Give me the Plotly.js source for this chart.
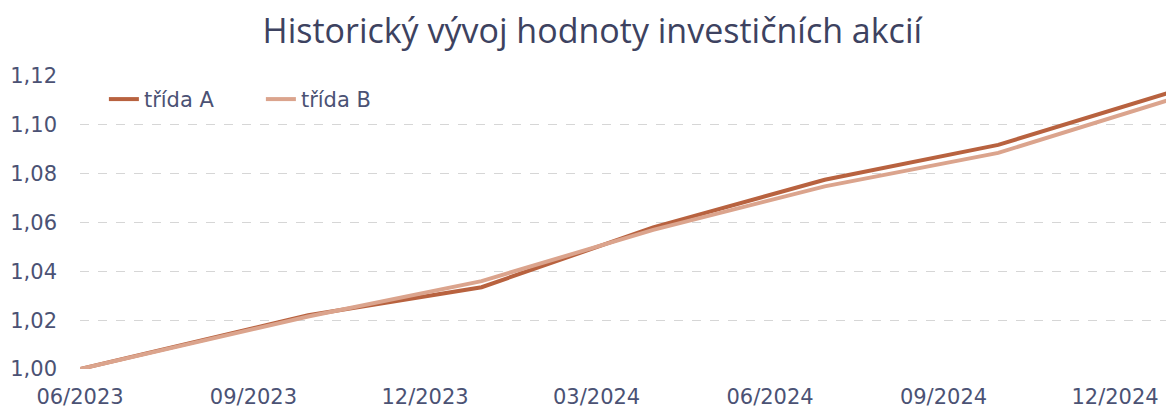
<!DOCTYPE html>
<html>
<head>
<meta charset="utf-8">
<script src="https://cdn.plot.ly/plotly-3.0.1.min.js"></script>
<style>html,body{margin:0;padding:0;background:#fff;}#chart{width:1166px;height:410px;}</style>
</head>
<body>
<div id="chart"></div>
<script>
const dates = ["2023-06-01","2023-09-30","2023-12-31","2024-03-31","2024-06-30","2024-09-30","2024-12-31"];
const classA = [1.000, 1.022, 1.0335, 1.058, 1.0775, 1.0918, 1.1135];
const classB = [1.000, 1.0215, 1.036, 1.057, 1.0748, 1.0885, 1.1105];
const seriesNames = ["třída A", "třída B"];
const titleText = "Historický vývoj hodnoty investičních akcií";

const textColor = "#4b5274";
const tickFamily = "DejaVu Sans";
const traces = [
  {x: dates, y: classA, name: seriesNames[0], type: "scatter", mode: "lines",
   line: {color: "#b8623f", width: 4}},
  {x: dates, y: classB, name: seriesNames[1], type: "scatter", mode: "lines",
   line: {color: "#dba48d", width: 4}}
];
const layout = {
  width: 1166, height: 410,
  margin: {l: 80, r: 0, t: 76, b: 41, pad: 0},
  paper_bgcolor: "#fff", plot_bgcolor: "#fff",
  separators: ", ",
  title: {text: titleText, x: 0.508, xanchor: "center", y: 0.925, yanchor: "middle",
          font: {family: "Open Sans", size: 34, color: "#3d4260"}},
  font: {family: tickFamily, size: 21, color: textColor},
  showlegend: true,
  legend: {orientation: "h", x: 0.022, y: 0.92, xanchor: "left", yanchor: "middle",
           bgcolor: "rgba(0,0,0,0)", font: {family: tickFamily, size: 21, color: textColor},
           entrywidth: 112, entrywidthmode: "pixels", tracegroupgap: 0},
  xaxis: {type: "date", range: ["2023-06-01", "2024-12-28"],
          tick0: "2023-06-01", dtick: "M3", tickformat: "%m/%Y",
          showgrid: false, zeroline: false, showline: false, ticks: "",
          ticklabelstandoff: 13,
          tickfont: {family: tickFamily, size: 21, color: textColor}},
  yaxis: {range: [1.0, 1.12], dtick: 0.02, tickformat: ".2f",
          showgrid: true, gridcolor: "#d6d6d6", griddash: "dash", gridwidth: 1,
          zeroline: false, showline: false, ticks: "", ticklabelstandoff: 22,
          tickfont: {family: tickFamily, size: 21, color: textColor}},
  hovermode: false
};
Plotly.newPlot("chart", traces, layout, {displayModeBar: false, staticPlot: true});
</script>
</body>
</html>
